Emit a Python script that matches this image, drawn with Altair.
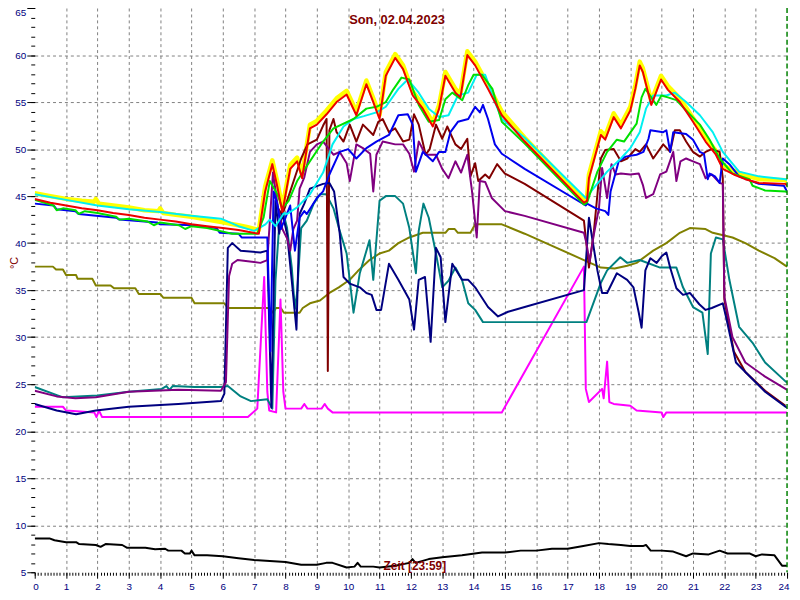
import altair as alt
import pandas as pd

# (hour, °C) pairs
YELLOW = [(0,45.3),(0.5,45.0),(1,44.7),(1.5,44.5),(1.9,44.4),(1.95,44.7),(2.05,44.2),(2.5,44.0),(3,43.8),(3.5,43.5),
          (3.95,43.4),(4.0,43.7),(4.1,43.2),(4.5,43.0),(5,42.8),(5.5,42.5),(6,42.2),(6.5,41.9),(6.8,41.7),(7.15,41.4),
          (7.35,46.0),(7.58,48.8),(7.74,46.5),(7.9,43.8),(8.15,48.3),(8.37,49.1),(8.53,47.3),(8.78,52.6),(9.0,53.0),
          (9.31,54.1),(9.63,55.4),(9.95,56.2),(10.26,54.0),(10.58,57.3),(10.8,55.4),(11.0,53.6),(11.2,58.2),(11.5,60.1),
          (11.75,58.9),(12.06,56.1),(12.38,54.7),(12.7,52.8),(12.9,54.7),(13.1,58.2),(13.42,56.4),(13.58,55.9),
          (13.8,60.4),(14.05,59.3),(14.46,56.8),(14.9,54.0),(15.63,51.2),(17.52,44.6),(17.62,44.9),(17.68,47.3),
          (18.06,51.9),(18.2,51.4),(18.47,53.8),(18.7,52.6),(19.0,54.5),(19.16,56.8),(19.3,59.3),(19.4,58.6),
          (19.67,55.1),(19.98,57.8),(20.2,56.7),(20.58,55.4),(21.0,53.3),(21.4,51.2),(21.73,49.8),(21.95,48.3),
          (22.3,47.7),(22.67,47.2),(23.1,46.8),(23.95,46.7),(24,46.5)]

RED = [(0,44.7),(0.5,44.3),(1,44.0),(1.5,43.7),(2,43.5),(2.5,43.2),(3,43.0),(3.5,42.7),(4,42.5),(4.5,42.3),(5,42.0),
       (5.5,41.8),(6,41.6),(6.5,41.4),(6.8,41.2),(7.15,41.0),(7.35,45.5),(7.58,48.4),(7.74,46.0),(7.9,43.3),(8.15,47.9),
       (8.37,48.7),(8.53,46.9),(8.78,52.2),(9.0,52.6),(9.31,53.7),(9.63,55.0),(9.95,55.8),(10.26,53.6),(10.58,56.9),
       (10.8,55.0),(11.0,53.2),(11.2,57.8),(11.5,59.7),(11.75,58.5),(12.06,55.7),(12.38,54.3),(12.7,52.4),(12.9,54.3),
       (13.1,57.8),(13.42,56.0),(13.58,55.5),(13.8,60.0),(14.05,58.9),(14.46,56.4),(14.9,53.6),(15.63,50.8),
       (17.52,44.3),(17.62,44.5),(17.68,46.9),(18.06,51.5),(18.2,51.0),(18.47,53.4),(18.7,52.2),(19.0,54.1),
       (19.16,56.4),(19.3,58.9),(19.4,58.2),(19.67,54.7),(19.98,57.4),(20.2,56.3),(20.58,55.0),(21.0,52.9),
       (21.4,50.8),(21.73,49.4),(21.95,47.9),(22.3,47.3),(22.67,46.8),(23.1,46.4),(23.95,46.3),(24,46.1)]

GREEN = [(0,44.6),(0.6,44.0),(0.7,43.5),(0.9,43.7),(1.3,43.5),(1.4,43.1),(1.6,43.4),(2.0,43.2),(2.6,42.8),(2.7,42.5),
         (3.0,42.6),(3.6,42.3),(3.8,41.9),(4.0,42.2),(4.6,41.9),(4.8,41.5),(5.0,41.8),(5.5,41.6),(5.9,41.3),(6.3,41.0),
         (7.1,41.0),(7.3,42.7),(7.5,46.6),(7.74,45.2),(7.9,43.7),(8.1,44.5),(8.37,46.6),(8.78,48.7),(9.2,50.8),
         (9.53,52.2),(10.17,53.2),(10.58,54.3),(10.9,54.5),(11.2,55.0),(11.43,56.3),(11.7,57.6),(11.95,57.4),
         (12.25,54.7),(12.57,52.9),(12.9,53.1),(13.1,55.3),(13.32,56.0),(13.64,55.2),(13.83,56.8),(14.0,57.9),
         (14.27,57.9),(14.6,56.4),(14.9,52.9),(15.63,50.6),(17.52,44.1),(17.62,44.3),(17.95,47.6),(18.26,49.7),
         (18.57,51.0),(18.8,50.8),(19.2,52.7),(19.36,55.5),(19.48,56.4),(19.63,55.7),(19.83,54.7),(19.99,55.7),
         (20.2,55.5),(20.47,55.2),(20.78,54.1),(21.22,52.6),(21.53,51.0),(21.85,49.0),(22.26,47.4),(22.8,46.8),
         (22.9,46.1),(23.3,45.6),(23.95,45.5),(24,45.4)]

CYAN = [(0,45.2),(1,44.6),(2,44.0),(3,43.6),(4,43.3),(5,42.9),(5.94,42.6),(6.5,41.8),(7.0,41.3),(7.36,42.0),(7.5,42.5),
        (7.68,41.8),(7.95,43.2),(8.05,43.1),(8.37,43.8),(8.78,45.2),(9.2,47.5),(9.5,50.5),(9.85,52.4),(10.17,53.2),
        (10.5,53.5),(10.9,53.9),(11.2,54.5),(11.6,56.4),(11.9,57.4),(12.25,56.0),(12.57,54.3),(12.9,53.4),(13.2,53.6),
        (13.5,55.7),(13.83,56.0),(14.1,57.9),(14.37,57.9),(14.68,55.0),(14.9,53.2),(15.63,51.2),(17.58,44.8),
        (18.26,47.6),(18.7,49.0),(19.0,50.1),(19.3,51.8),(19.5,54.3),(19.73,55.7),(20.15,55.7),(20.42,56.0),
        (20.78,55.0),(21.22,53.6),(21.63,51.8),(21.95,49.7),(22.47,47.6),(23.1,47.1),(23.95,46.8),(24,46.7)]

BLUE = [(0,44.2),(0.6,44.0),(0.7,43.6),(1.3,43.4),(1.4,43.1),(2.6,42.7),(2.7,42.5),(3.9,42.2),(4.0,42.0),(5.1,41.9),
        (5.2,41.8),(5.8,41.6),(5.9,41.1),(6.5,41.0),(6.6,40.6),(7.42,40.6),(7.52,28.5),(7.62,45.5),(7.75,44.0),
        (7.85,41.5),(8.0,42.7),(8.15,44.0),(8.3,39.2),(8.45,42.7),(8.6,43.4),(8.68,43.1),(9.0,44.8),(9.2,45.5),
        (9.4,47.3),(9.73,49.7),(10.0,50.0),(10.26,49.0),(10.58,50.1),(10.9,50.8),(11.3,51.5),(11.6,53.6),(11.9,53.7),
        (12.06,52.6),(12.16,47.6),(12.38,49.7),(12.7,48.7),(12.9,49.7),(13.1,49.7),(13.26,51.8),(13.5,52.9),
        (13.83,53.2),(14.05,54.5),(14.2,53.9),(14.3,54.7),(14.46,53.2),(14.68,50.5),(14.9,49.5),(15.63,47.9),
        (17.58,44.0),(17.62,44.2),(17.9,43.7),(18.2,43.4),(18.3,43.0),(18.37,45.5),(18.63,48.7),(18.85,49.2),
        (19.2,49.4),(19.42,49.7),(19.58,51.1),(19.64,52.0),(20.05,51.8),(20.15,52.0),(20.27,49.7),(20.37,51.8),
        (20.78,51.6),(21.0,51.0),(21.22,49.7),(21.35,49.5),(21.47,46.8),(21.53,47.4),(21.7,47.1),(21.85,46.4),
        (21.95,49.0),(22.16,48.4),(22.47,47.1),(23.1,46.3),(23.9,46.1),(24,45.5)]

MAROON = [(7.7,44.0),(7.9,43.0),(8.1,45.0),(8.3,47.0),(8.5,49.0),(8.7,50.5),(9.0,51.0),(9.2,52.5),(9.31,53.2),
          (9.35,26.4),(9.4,52.0),(9.53,53.2),(9.63,51.8),(9.85,50.8),(10.05,52.6),(10.26,50.8),(10.47,52.6),
          (10.8,51.5),(10.96,52.9),(11.1,53.2),(11.3,51.8),(11.5,52.2),(11.75,50.8),(11.95,51.0),(12.1,53.7),
          (12.25,52.6),(12.47,49.4),(12.6,50.0),(12.8,52.6),(13.0,51.1),(13.16,52.4),(13.42,50.5),(13.6,50.0),
          (13.8,51.1),(13.9,47.1),(14.05,48.5),(14.15,46.6),(14.37,47.3),(14.5,46.9),(14.75,48.4),(15.0,47.4),
          (15.63,46.3),(17.52,42.4),(17.68,37.4),(17.84,41.3),(18.06,49.0),(18.2,49.9),(18.47,50.0),(18.7,48.7),
          (18.9,49.0),(19.16,50.0),(19.3,49.7),(19.5,50.5),(19.73,49.0),(20.05,50.5),(20.27,49.7),(20.42,52.0),
          (20.58,52.0),(20.78,50.8),(21.0,49.7),(21.22,49.2),(21.4,49.7),(21.6,50.0),(21.85,49.7),(21.95,46.9),
          (22.0,34.0),(22.3,28.5),(22.67,26.3),(23.3,24.3),(23.95,22.7)]

PURPLE = [(0,24.3),(0.7,23.7),(1.3,23.5),(1.95,23.6),(3.0,24.2),(4.58,24.4),(5.94,24.3),(6.1,25.2),(6.2,36.5),
          (6.3,37.8),(6.47,38.2),(7.2,37.9),(7.42,38.2),(7.6,47.5),(7.75,44.0),(7.9,41.5),(8.05,40.5),(8.15,39.2),
          (8.25,41.5),(8.37,42.4),(8.45,45.8),(8.6,47.0),(8.78,49.7),(9.0,50.5),(9.2,50.8),(9.53,49.4),(9.73,49.7),
          (9.95,48.5),(10.05,46.6),(10.26,50.5),(10.47,50.1),(10.7,49.5),(10.8,45.5),(10.9,49.4),(11.1,50.8),
          (11.5,50.5),(11.75,50.5),(11.95,49.5),(12.1,47.6),(12.25,50.8),(12.47,49.4),(12.8,49.4),(13.0,47.9),
          (13.2,46.9),(13.42,48.7),(13.6,47.5),(13.8,49.4),(13.95,45.5),(14.1,40.6),(14.2,46.6),(14.37,46.5),
          (14.58,44.8),(15.0,43.4),(15.63,42.9),(17.52,41.1),(17.6,40.0),(17.7,38.0),(17.84,41.0),(18.0,43.7),
          (18.1,48.0),(18.26,44.8),(18.4,48.4),(18.53,47.3),(18.7,47.4),(19.0,47.3),(19.27,47.4),(19.4,46.2),
          (19.5,44.8),(19.73,45.2),(19.95,47.3),(20.15,47.6),(20.37,49.7),(20.47,46.6),(20.6,48.7),(20.78,49.0),
          (21.0,48.7),(21.22,48.4),(21.4,46.9),(21.6,47.3),(21.85,46.4),(21.95,46.3),(22.0,34.3),(22.26,30.0),
          (22.67,27.3),(23.3,25.8),(23.95,24.5),(24,24.4)]

TEAL = [(0,24.7),(0.9,23.6),(2,23.8),(3,24.2),(4.05,24.5),(4.2,24.8),(4.3,24.4),(4.4,24.8),(5.1,24.7),(5.94,24.7),
        (6.16,24.8),(6.57,23.7),(6.9,23.2),(7.42,23.4),(7.58,22.4),(7.68,36.0),(7.8,42.0),(7.9,43.6),(8.05,41.6),
        (8.2,37.4),(8.3,33.0),(8.37,34.7),(8.5,41.6),(8.68,42.4),(8.9,44.2),(9.1,45.2),(9.3,45.2),(9.53,43.7),
        (9.73,41.3),(9.95,38.9),(10.17,32.6),(10.37,36.8),(10.68,40.3),(10.8,36.1),(11.0,44.5),(11.2,45.0),
        (11.5,45.0),(11.75,44.2),(11.95,41.6),(12.16,36.8),(12.25,41.3),(12.4,44.2),(12.57,42.7),(12.8,38.9),
        (13.0,35.3),(13.2,36.0),(13.42,37.4),(13.63,36.1),(13.83,33.6),(14.05,32.9),(14.3,31.6),(17.6,31.6),
        (18.05,35.7),(18.26,37.1),(18.68,38.5),(18.9,37.9),(19.3,38.2),(19.95,37.4),(20.47,37.4),(20.68,35.3),
        (21.0,33.2),(21.3,32.6),(21.47,28.2),(21.57,38.9),(21.73,40.6),(21.95,40.4),(22.16,36.1),(22.47,31.1),
        (22.9,29.4),(23.3,27.3),(23.95,25.3),(24,25.2)]

NAVY = [(0,22.9),(0.7,22.2),(1.32,21.8),(1.95,22.2),(3.0,22.6),(4.58,22.9),(5.94,23.2),(6.05,24.0),(6.16,39.5),
        (6.3,40.0),(6.57,39.2),(7.2,39.0),(7.42,39.2),(7.55,22.5),(7.68,44.5),(7.8,41.0),(7.9,43.2),(8.05,41.0),
        (8.2,36.0),(8.35,30.8),(8.45,43.1),(8.6,44.2),(8.78,45.8),(9.2,46.3),(9.4,46.4),(9.55,45.5),(9.73,41.0),
        (9.85,36.4),(10.05,35.7),(10.37,35.3),(10.58,34.7),(10.75,34.5),(10.9,32.9),(11.05,32.9),(11.3,37.8),
        (11.6,36.1),(11.95,34.0),(12.1,30.8),(12.25,36.1),(12.45,36.4),(12.63,29.5),(12.8,39.5),(12.95,38.5),
        (13.1,31.6),(13.32,37.8),(13.63,36.1),(13.83,36.1),(14.05,35.3),(14.46,33.2),(14.78,32.2),(15.1,32.7),
        (15.63,33.2),(17.52,35.0),(17.68,42.7),(17.78,40.6),(17.95,37.1),(18.1,34.7),(18.26,34.7),(18.57,36.8),
        (18.9,36.1),(19.1,35.3),(19.27,32.6),(19.36,31.0),(19.48,37.1),(19.64,38.4),(19.84,37.9),(20.0,38.6),
        (20.15,39.0),(20.27,37.4),(20.47,35.2),(20.68,34.5),(20.9,34.7),(21.2,33.5),(21.4,32.9),(21.6,33.1),
        (21.95,33.6),(22.05,32.2),(22.37,27.3),(22.67,26.3),(23.3,24.2),(23.95,22.6),(24,22.5)]

OLIVE = [(0,37.5),(0.58,37.5),(0.68,37.2),(0.9,37.2),(1.0,36.6),(1.32,36.6),(1.37,36.2),(1.84,36.2),(1.95,35.5),
         (2.42,35.5),(2.53,35.2),(3.21,35.2),(3.32,34.6),(4.0,34.6),(4.1,34.2),(5.0,34.2),(5.1,33.6),(6.05,33.6),
         (6.16,33.1),(7.5,33.1),(7.6,32.6),(7.7,33.1),(7.85,33.1),(7.95,32.6),(8.45,32.6),(8.55,33.1),(8.78,33.6),
         (9.1,33.9),(9.4,34.7),(9.7,35.3),(10.05,36.1),(10.3,37.0),(10.68,38.2),(11.0,38.9),(11.3,39.2),(11.6,40.0),
         (11.95,40.6),(12.38,41.1),(13.1,41.1),(13.2,41.5),(13.4,41.5),(13.5,41.1),(13.9,41.1),(14.05,42.0),
         (14.9,42.0),(15.63,41.0),(17.52,38.2),(18.06,37.4),(18.5,37.3),(18.9,37.6),(19.2,37.9),(19.73,39.2),
         (20.15,40.0),(20.58,41.1),(20.9,41.6),(21.4,41.5),(21.63,41.1),(22.26,40.6),(22.67,40.0),(23.1,39.2),
         (23.6,38.4),(23.95,37.6),(24,37.5)]

MAGENTA = [(0,22.6),(0.9,22.6),(1.0,22.2),(1.9,22.0),(1.97,21.5),(2.05,22.2),(2.15,21.5),(6.8,21.5),(7.1,22.4),
           (7.32,36.4),(7.42,24.2),(7.48,22.2),(7.7,22.0),(7.84,34.0),(7.93,24.2),(8.0,22.4),(8.5,22.4),(8.6,22.9),
           (8.7,22.4),(9.15,22.4),(9.25,22.9),(9.35,22.4),(9.5,22.0),(14.9,22.0),(17.52,37.5),(17.58,24.5),
           (17.68,23.1),(18.1,24.5),(18.15,23.5),(18.26,27.4),(18.33,23.1),(18.47,22.9),(19.0,22.7),(19.2,22.2),
           (20.0,22.0),(20.05,21.5),(20.15,22.0),(24,22.0)]

BLACK = [(0,8.6),(0.47,8.6),(0.63,8.4),(1.0,8.2),(1.32,8.2),(1.42,8.0),(1.95,7.9),(2.1,7.7),(2.26,8.0),(2.79,7.9),
         (2.95,7.6),(3.53,7.6),(3.84,7.45),(4.16,7.5),(4.26,7.3),(4.68,7.3),(4.79,7.0),(4.95,7.0),(5.0,7.3),
         (5.1,6.8),(5.5,6.8),(6.0,6.7),(6.5,6.5),(7.0,6.3),(7.5,6.2),(8.0,6.1),(8.5,5.8),(9.0,5.8),(9.3,6.0),
         (9.5,6.0),(9.95,5.5),(10.2,5.6),(10.3,6.0),(10.4,5.6),(10.8,5.6),(11.0,5.5),(11.5,5.7),(11.95,6.0),
         (12.05,6.4),(12.15,6.0),(12.57,6.4),(13.0,6.6),(13.63,6.8),(14.27,7.1),(15.0,7.1),(15.5,7.3),(16.0,7.3),
         (16.5,7.5),(17.0,7.5),(17.5,7.8),(18.0,8.1),(18.3,8.0),(18.7,7.9),(19.0,7.8),(19.42,7.8),(19.5,7.9),
         (19.65,7.3),(20.0,7.3),(20.37,7.2),(20.78,6.7),(21.0,7.0),(21.5,6.9),(21.85,7.3),(22.1,7.0),(22.8,7.0),
         (23.0,6.7),(23.2,6.9),(23.6,6.8),(23.84,5.7),(24,5.7)]

TITLE = "Son, 02.04.2023"
X_TITLE = "Zeit [23:59]"
Y_TITLE = "°C"

X_MAJOR = list(range(0, 25))
Y_MAJOR = list(range(5, 70, 5))
X_MINOR = [round(i * 0.1, 1) for i in range(241)]
Y_MINOR = list(range(5, 66))

# drawing order, colour, stroke width
SERIES = [
    ("yellow", YELLOW, "#ffff00", 4.5),
    ("olive", OLIVE, "#808000", 2),
    ("magenta", MAGENTA, "#ff00ff", 2),
    ("black", BLACK, "#000000", 2),
    ("teal", TEAL, "#008080", 2),
    ("maroon", MAROON, "#800000", 2),
    ("navy", NAVY, "#000080", 2),
    ("purple", PURPLE, "#800080", 2),
    ("blue", BLUE, "#0000ee", 2),
    ("cyan", CYAN, "#00f0f0", 2),
    ("green", GREEN, "#00e000", 2),
    ("red", RED, "#ee0000", 2),
]

FONT = "Liberation Sans"
xs = alt.Scale(domain=[0, 24], nice=False, zero=False)
ys = alt.Scale(domain=[5, 65], nice=False, zero=False)


def frame(points):
    return pd.DataFrame(points, columns=["h", "t"])


major_x = alt.Axis(values=X_MAJOR, orient="bottom", grid=True, gridDash=[3, 3], gridColor="#808080",
                   gridOpacity={"condition": {"test": "datum.value == 0 || datum.value == 24", "value": 0}, "value": 1},
                   domain=False, ticks=True, tickSize=6, tickColor="#000000", labelColor="#000080",
                   labelFont=FONT, labelFontSize=10, labelPadding=3, labelFlush=True, labelFlushOffset=2,
                   labelOverlap=False, title=None)
major_y = alt.Axis(values=Y_MAJOR, orient="left", grid=True, gridDash=[3, 3], gridColor="#808080",
                   gridOpacity={"condition": {"test": "datum.value == 5 || datum.value == 65", "value": 0}, "value": 1},
                   domain=False, ticks=True, tickSize=8, tickColor="#000000", labelColor="#000080",
                   labelFont=FONT, labelFontSize=10, labelPadding=1, labelOverlap=False,
                   labelBaseline={"condition": {"test": "datum.value == 65", "value": "top"}, "value": "middle"},
                   title=Y_TITLE, titleColor="#800000", titleFont=FONT, titleFontSize=11, titleFontWeight="normal",
                   titleX=-20, titleY=257, titleAngle=-90, titleBaseline="middle", titleAlign="center")
minor_x = alt.Axis(values=X_MINOR, orient="bottom", grid=False, labels=False, domain=False, ticks=True,
                   tickSize=3, tickColor="#000000", title=None)
minor_y = alt.Axis(values=Y_MINOR, orient="left", grid=False, labels=False, domain=False, ticks=True,
                   tickSize=4, tickColor="#000000", title=None)

black_df = frame(BLACK)

axis_major = alt.Chart(black_df).mark_point(opacity=0).encode(
    x=alt.X("h:Q", scale=xs, axis=major_x), y=alt.Y("t:Q", scale=ys, axis=major_y))
axis_minor = alt.Chart(black_df).mark_point(opacity=0).encode(
    x=alt.X("h:Q", scale=xs, axis=minor_x), y=alt.Y("t:Q", scale=ys, axis=minor_y))

layers = [axis_major, axis_minor]
for name, pts, color, width in SERIES:
    layers.append(
        alt.Chart(frame(pts)).mark_line(color=color, strokeWidth=width, strokeJoin="round", clip=True).encode(
            x=alt.X("h:Q", scale=xs, axis=None), y=alt.Y("t:Q", scale=ys, axis=None), order="h:Q")
    )

edge = alt.Chart(pd.DataFrame({"h": [24]})).mark_rule(color="#008000", strokeDash=[5, 3], strokeWidth=1.5).encode(
    x=alt.X("h:Q", scale=xs, axis=None))
layers.append(edge)

title_txt = alt.Chart(pd.DataFrame({"s": [TITLE]})).mark_text(
    font=FONT, fontSize=13, fontWeight="bold", color="#800000", align="center", baseline="middle").encode(
    text="s:N", x=alt.value(366), y=alt.value(12))
xt_txt = alt.Chart(pd.DataFrame({"s": [X_TITLE]})).mark_text(
    font=FONT, fontSize=12, fontWeight="bold", color="#800000", align="center", baseline="middle").encode(
    text="s:N", x=alt.value(384), y=alt.value(564))
layers += [title_txt, xt_txt]

chart = alt.layer(*layers).resolve_axis(x="independent", y="independent").properties(
    width=760, height=570,
    autosize=alt.AutoSizeParams(type="none"),
    padding={"left": 27, "top": -3, "right": 5, "bottom": 25},
    background="#ffffff",
).configure_view(stroke="transparent")

chart.save("out.html", embed_options={"renderer": "svg", "actions": False})
